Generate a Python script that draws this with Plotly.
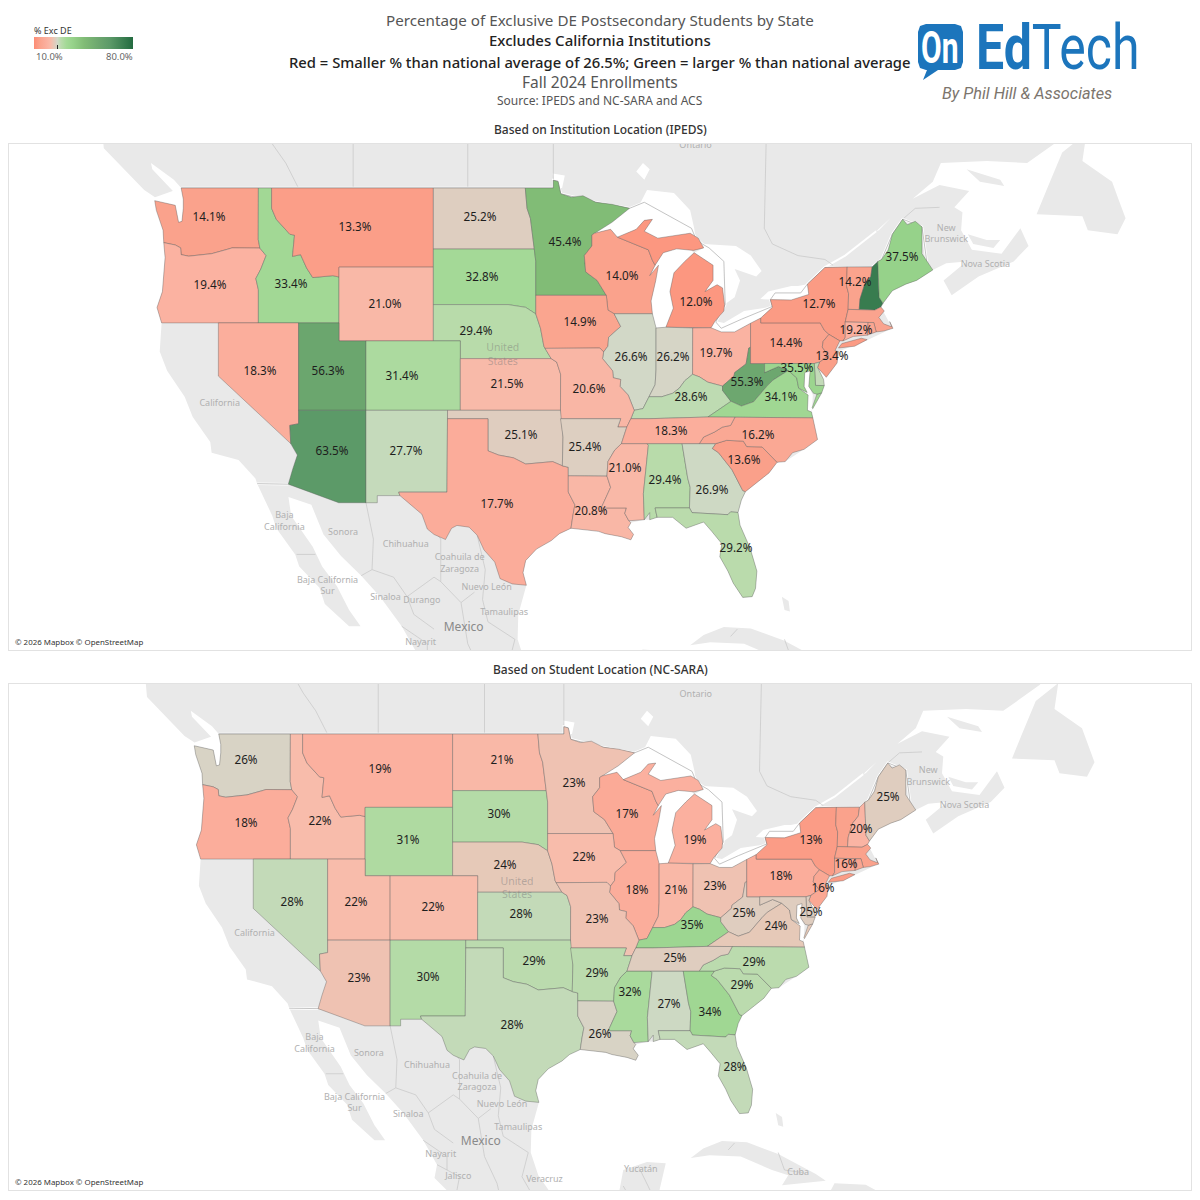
import numpy as np
import plotly.graph_objects as go
from plotly.colors import sample_colorscale

# values, % exclusive DE by state
states = ["WA","OR","ID","MT","WY","ND","SD","NE","MN","WI","MI","IA","IL","IN","OH","KY","WV","VA","PA","NY",
          "VT","NH","ME","MA","CT","RI","NJ","DE","MD","NV","UT","CO","KS","MO","AZ","NM","OK","TX","AR","LA",
          "MS","AL","GA","FL","SC","NC","TN"]
ipeds = [14.1,19.4,33.4,13.3,21.0,25.2,32.8,29.4,45.4,14.0,12.0,14.9,26.6,26.2,19.7,28.6,55.3,34.1,14.4,12.7,
         14.2,74.0,37.5,14.5,19.2,15.0,13.4,28.0,35.5,18.3,56.3,31.4,21.5,20.6,63.5,27.7,25.1,17.7,25.4,20.8,
         21.0,29.4,26.9,29.2,13.6,16.2,18.3]
nc_sara = [26,18,22,19,31,21,30,24,23,17,19,22,18,21,23,35,25,24,18,13,
           14,20,25,14,16,15,16,25,25,28,22,22,28,23,23,30,29,28,29,26,
           32,27,34,28,29,29,25]

scale_values = [10,14,19,22,24,25.5,26.5,27.7,29.4,33,37.5,45.4,56,63.5,80]
scale_colors = ["#fd8c74","#faa28c","#fbb09f","#f8bcab","#e6c9b8","#dccfc2","#d3d8c8","#c5dabb","#b8dbaa",
                "#a3d996","#96d28a","#81bc76","#6ca66e","#5c9a68","#236b40"]
colorscale = [[(v - 10) / 70, c] for v, c in zip(scale_values, scale_colors)]

# label anchors on the page
label_px_top = {"WA":(209,218),"OR":(210,286),"ID":(291,285),"MT":(355,228),"WY":(385,305),"ND":(480,218),
    "SD":(482,278),"NE":(476,332),"MN":(565,243),"WI":(622,277),"MI":(696,303),"IA":(580,323),"IL":(631,358),
    "IN":(673,358),"OH":(716,354),"KY":(691,398),"WV":(747,383),"VA":(781,398),"PA":(786,344),"NY":(819,305),
    "VT":(855,283),"ME":(902,258),"CT":(856,331),"NJ":(832,357),"MD":(797,369),"NV":(260,372),"UT":(328,372),
    "CO":(402,377),"KS":(507,385),"MO":(589,390),"AZ":(332,452),"NM":(406,452),"OK":(521,436),"TX":(497,505),
    "AR":(585,448),"LA":(591,512),"MS":(625,469),"AL":(665,481),"GA":(712,491),"FL":(736,549),"SC":(744,461),
    "NC":(758,436),"TN":(671,432)}
label_px_bottom = {"WA":(246,761),"OR":(246,824),"ID":(320,822),"MT":(380,770),"WY":(408,841),"ND":(502,761),
    "SD":(499,815),"NE":(505,866),"MN":(574,784),"WI":(627,815),"MI":(695,841),"IA":(584,858),"IL":(637,891),
    "IN":(676,891),"OH":(715,887),"KY":(692,926),"WV":(744,914),"VA":(776,927),"PA":(781,877),"NY":(811,841),
    "NH":(861,830),"ME":(888,798),"CT":(846,865),"NJ":(823,889),"DE":(811,913),"NV":(292,903),"UT":(356,903),
    "CO":(433,908),"KS":(521,915),"MO":(597,920),"AZ":(359,979),"NM":(428,978),"OK":(534,962),"TX":(512,1026),
    "AR":(597,974),"LA":(600,1035),"MS":(630,993),"AL":(669,1005),"GA":(710,1013),"FL":(735,1068),"SC":(742,986),
    "NC":(754,963),"TN":(675,959)}

# rough state outlines, lon/lat, typed by hand since the topojson needs the network
shapes = {
"WA":[[(-124.72,48.38),(-123.2,48.15),(-122.95,47.3),(-122.7,47.35),(-122.6,48.0),(-122.6,48.45),(-122.76,49.0),(-117.03,49.0),(-117.04,46.43),(-116.92,45.99),(-118.98,46.0),(-119.3,45.93),(-120.5,45.7),(-121.2,45.65),(-122.2,45.57),(-122.76,45.65),(-122.8,46.0),(-123.2,46.15),(-124.05,46.27),(-124.1,46.9),(-124.6,47.9)]],
"OR":[[(-124.05,46.27),(-123.2,46.15),(-122.8,46.0),(-122.76,45.65),(-122.2,45.57),(-121.2,45.65),(-120.5,45.7),(-119.3,45.93),(-118.98,46.0),(-116.92,45.99),(-116.46,45.6),(-116.85,44.9),(-117.22,44.4),(-117.03,43.8),(-117.03,42.0),(-124.21,42.0),(-124.55,42.84),(-124.15,43.7),(-124.05,44.7),(-123.95,45.5)]],
"ID":[[(-117.03,49),(-116.05,49),(-116.05,48.0),(-115.7,47.45),(-114.7,46.7),(-114.35,46.65),(-114.5,45.56),(-113.9,45.65),(-113.45,44.95),(-113.0,44.45),(-111.5,44.55),(-111.05,44.48),(-111.05,42.0),(-117.03,42.0),(-117.03,43.8),(-117.22,44.4),(-116.85,44.9),(-116.46,45.6),(-116.92,45.99),(-117.04,46.43)]],
"MT":[[(-116.05,49),(-104.05,49),(-104.05,45),(-111.05,45),(-111.05,44.48),(-111.5,44.55),(-113.0,44.45),(-113.45,44.95),(-113.9,45.65),(-114.5,45.56),(-114.35,46.65),(-114.7,46.7),(-115.7,47.45),(-116.05,48.0)]],
"WY":[[(-111.05,45),(-104.05,45),(-104.05,41),(-111.05,41)]],
"ND":[[(-104.05,49),(-97.23,49),(-97.1,48.0),(-96.85,47.5),(-96.56,45.94),(-104.05,45.94)]],
"SD":[[(-104.05,45.94),(-96.56,45.94),(-96.45,45.3),(-96.45,43.5),(-96.45,42.49),(-97.2,42.85),(-98.5,43.0),(-104.05,43)]],
"NE":[[(-104.05,43),(-98.5,43),(-97.2,42.85),(-96.45,42.49),(-96.1,41.7),(-95.85,40.7),(-95.31,40.0),(-102.05,40),(-102.05,41),(-104.05,41)]],
"CO":[[(-109.05,41),(-102.05,41),(-102.05,37),(-109.05,37)]],
"UT":[[(-111.05,42),(-111.05,41),(-109.05,41),(-109.05,37),(-114.05,37),(-114.05,42)]],
"NV":[[(-120,42),(-114.05,42),(-114.05,36.2),(-114.7,36.1),(-114.63,35.0),(-120,39)]],
"AZ":[[(-114.05,37),(-109.05,37),(-109.05,31.33),(-111.07,31.33),(-114.81,32.5),(-114.72,32.72),(-114.5,33.4),(-114.14,34.3),(-114.63,35.0),(-114.7,36.1),(-114.05,36.2)]],
"NM":[[(-109.05,37),(-103,37),(-103.04,32),(-106.62,32),(-106.53,31.78),(-108.21,31.78),(-108.21,31.33),(-109.05,31.33)]],
"KS":[[(-102.05,40),(-95.31,40),(-94.9,39.8),(-94.61,39.11),(-94.62,37),(-102.05,37)]],
"OK":[[(-103,37),(-94.62,37),(-94.43,35.4),(-94.48,33.64),(-95.2,33.9),(-96.5,33.8),(-97.2,33.75),(-98.1,34.13),(-99.2,34.3),(-100,34.56),(-100,36.5),(-103,36.5)]],
"TX":[[(-106.62,32),(-103.04,32),(-103,36.5),(-100,36.5),(-100,34.56),(-99.2,34.3),(-98.1,34.13),(-97.2,33.75),(-96.5,33.8),(-95.2,33.9),(-94.48,33.64),(-94.04,33.55),(-94.04,32),(-93.55,31.2),(-93.7,30.5),(-93.84,29.7),(-94.7,29.35),(-95.3,28.9),(-96.4,28.35),(-97.2,27.6),(-97.4,26.8),(-97.15,25.96),(-98.2,26.05),(-99.1,26.4),(-99.5,27.5),(-100.3,28.3),(-100.8,29.25),(-101.4,29.77),(-102.3,29.88),(-102.7,29.7),(-103.15,28.97),(-104.0,29.3),(-104.5,29.65),(-104.9,30.6),(-106.0,31.4),(-106.53,31.78)]],
"MN":[[(-97.23,49),(-95.15,49),(-95.15,49.38),(-94.8,49.32),(-94.6,48.72),(-93.8,48.55),(-92.95,48.62),(-92.0,48.3),(-90.8,48.2),(-89.5,48.0),(-90.8,47.3),(-92.1,46.75),(-92.29,46.66),(-92.29,46.1),(-92.85,45.6),(-92.75,44.75),(-91.9,44.3),(-91.22,43.5),(-96.45,43.5),(-96.45,45.3),(-96.56,45.94),(-96.85,47.5),(-97.1,48.0)]],
"IA":[[(-96.45,43.5),(-91.22,43.5),(-91.1,42.7),(-90.64,42.5),(-90.15,41.8),(-91.05,41.2),(-91.1,40.7),(-91.42,40.38),(-91.7,40.6),(-95.77,40.58),(-95.85,40.7),(-96.1,41.7),(-96.45,42.49)]],
"MO":[[(-95.77,40.58),(-91.7,40.6),(-91.42,40.38),(-91.5,40.0),(-90.75,39.3),(-90.7,38.9),(-90.15,38.8),(-90.2,38.4),(-89.6,37.9),(-89.15,37.0),(-89.4,36.5),(-89.7,36.0),(-90.37,36.0),(-90.15,36.5),(-94.62,36.5),(-94.62,37),(-94.61,39.11),(-94.9,39.8),(-95.31,40.0)]],
"AR":[[(-94.62,36.5),(-90.15,36.5),(-90.37,36.0),(-89.7,36.0),(-90.1,35.0),(-90.6,34.6),(-91.1,33.9),(-91.17,33.0),(-94.04,33.02),(-94.04,33.55),(-94.48,33.64),(-94.43,35.4)]],
"LA":[[(-94.04,33.02),(-91.17,33.0),(-90.9,32.3),(-91.6,31.0),(-89.73,31.0),(-89.85,30.65),(-89.55,30.18),(-89.4,30.05),(-89.6,29.75),(-89.2,29.3),(-89.4,28.95),(-90.1,29.15),(-91.3,29.35),(-91.8,29.5),(-92.6,29.58),(-93.84,29.7),(-93.7,30.5),(-93.55,31.2),(-94.04,32)]],
"MS":[[(-91.17,33.0),(-91.1,33.9),(-90.6,34.6),(-90.1,35.0),(-88.2,35.0),(-88.1,34.9),(-88.47,31.9),(-88.4,30.25),(-89.55,30.18),(-89.85,30.65),(-89.73,31.0),(-91.6,31.0),(-90.9,32.3)]],
"AL":[[(-88.2,35),(-85.6,35),(-85.18,32.87),(-85.0,32.3),(-85.05,31.0),(-87.6,31.0),(-87.45,30.4),(-88.0,30.25),(-88.0,30.7),(-88.4,30.25),(-88.47,31.9),(-88.1,34.9)]],
"GA":[[(-85.6,35),(-83.1,35),(-83.35,34.7),(-82.9,34.45),(-81.9,33.4),(-81.4,32.6),(-81.1,32.1),(-80.9,32.03),(-81.2,31.5),(-81.45,30.71),(-82.0,30.75),(-82.2,30.57),(-84.86,30.7),(-85.05,31.0),(-85.0,32.3),(-85.18,32.87)]],
"FL":[[(-87.6,31.0),(-85.05,31.0),(-84.86,30.7),(-82.2,30.57),(-82.0,30.75),(-81.45,30.71),(-81.3,29.9),(-80.55,28.4),(-80.05,26.9),(-80.15,25.75),(-80.4,25.2),(-81.1,25.15),(-81.8,26.1),(-82.2,26.9),(-82.8,27.85),(-82.65,28.7),(-83.4,29.5),(-84.0,30.1),(-85.3,29.7),(-86.3,30.4),(-87.45,30.4)]],
"SC":[[(-83.35,34.7),(-83.1,35),(-82.3,35.2),(-81.05,35.15),(-80.8,34.82),(-79.67,34.8),(-78.55,33.86),(-79.15,33.2),(-79.9,32.7),(-80.9,32.03),(-81.1,32.1),(-81.4,32.6),(-81.9,33.4),(-82.9,34.45)]],
"NC":[[(-84.32,35),(-83.1,35),(-82.3,35.2),(-81.05,35.15),(-80.8,34.82),(-79.67,34.8),(-78.55,33.86),(-77.95,33.9),(-77.4,34.45),(-76.55,34.65),(-75.55,35.25),(-75.9,36.55),(-81.68,36.59),(-82.0,36.1),(-82.6,36.0),(-83.2,35.7),(-84.0,35.4)]],
"TN":[[(-90.1,35.0),(-88.2,35),(-85.6,35),(-84.32,35),(-84.0,35.4),(-83.2,35.7),(-82.6,36.0),(-82.0,36.1),(-81.68,36.59),(-83.68,36.6),(-88.07,36.5),(-89.4,36.5),(-89.7,36.0)]],
"KY":[[(-89.4,36.5),(-88.07,36.5),(-83.68,36.6),(-81.97,37.53),(-82.0,37.55),(-82.6,38.17),(-82.6,38.42),(-83.7,38.65),(-84.3,38.95),(-84.82,39.1),(-85.4,38.73),(-85.8,38.3),(-86.3,38.0),(-87.1,37.8),(-88.05,37.8),(-88.5,37.1),(-89.15,37.0)]],
"VA":[[(-83.68,36.6),(-81.68,36.59),(-75.9,36.55),(-76.0,36.9),(-76.3,37.0),(-76.25,37.9),(-76.95,38.3),(-77.05,38.7),(-77.1,38.9),(-77.72,39.32),(-78.87,38.76),(-79.3,38.42),(-80.3,37.5),(-81.2,37.25),(-81.97,37.53)],[(-75.95,37.15),(-75.6,37.95),(-75.24,38.03),(-75.9,37.1)]],
"WV":[[(-81.97,37.53),(-82.0,37.55),(-82.6,38.17),(-82.6,38.42),(-81.75,39.0),(-81.7,39.2),(-80.85,39.7),(-80.65,40.6),(-80.52,40.64),(-80.52,39.72),(-79.48,39.72),(-79.48,39.2),(-78.45,39.55),(-77.72,39.32),(-78.87,38.76),(-79.3,38.42),(-80.3,37.5),(-81.2,37.25)]],
"OH":[[(-84.81,41.72),(-83.45,41.73),(-82.7,41.5),(-81.7,41.5),(-80.52,41.98),(-80.52,40.64),(-80.65,40.6),(-80.85,39.7),(-81.7,39.2),(-81.75,39.0),(-82.6,38.42),(-83.7,38.65),(-84.3,38.95),(-84.82,39.1)]],
"IN":[[(-87.53,41.72),(-86.8,41.76),(-84.81,41.72),(-84.82,39.1),(-85.4,38.73),(-85.8,38.3),(-86.3,38.0),(-87.1,37.8),(-88.05,37.8),(-87.6,38.5),(-87.53,39.35)]],
"IL":[[(-90.64,42.5),(-87.8,42.5),(-87.53,41.72),(-87.53,39.35),(-87.6,38.5),(-88.05,37.8),(-88.5,37.1),(-89.15,37.0),(-89.6,37.9),(-90.2,38.4),(-90.15,38.8),(-90.7,38.9),(-90.75,39.3),(-91.5,40.0),(-91.42,40.38),(-91.1,40.7),(-91.05,41.2),(-90.15,41.8)]],
"WI":[[(-92.29,46.66),(-92.1,46.75),(-90.9,46.95),(-90.4,46.55),(-88.1,45.9),(-87.8,45.35),(-87.6,45.1),(-88.0,44.55),(-87.35,45.1),(-87.55,44.3),(-87.9,43.2),(-87.8,42.5),(-90.64,42.5),(-91.1,42.7),(-91.22,43.5),(-91.9,44.3),(-92.75,44.75),(-92.85,45.6),(-92.29,46.1)]],
"MI":[[(-86.8,41.76),(-84.81,41.72),(-83.45,41.73),(-83.15,42.1),(-82.5,42.65),(-82.45,43.0),(-82.6,43.9),(-83.0,44.07),(-83.9,43.7),(-83.3,44.3),(-83.3,45.1),(-84.7,45.75),(-85.4,45.3),(-86.2,44.7),(-86.5,43.7),(-86.25,42.8)],[(-90.4,46.55),(-89.0,46.95),(-88.4,47.4),(-87.8,47.45),(-88.4,46.85),(-87.4,46.5),(-85.0,46.75),(-84.4,46.5),(-84.0,46.0),(-84.75,45.87),(-86.0,45.95),(-87.0,45.75),(-87.6,45.1),(-87.8,45.35),(-88.1,45.9)]],
"PA":[[(-80.52,41.98),(-79.76,42.27),(-79.76,42.0),(-75.35,42.0),(-75.05,41.6),(-74.7,41.36),(-75.13,40.98),(-75.2,40.65),(-74.73,40.15),(-75.4,39.8),(-75.79,39.72),(-80.52,39.72)]],
"NY":[[(-79.76,42.27),(-78.9,42.85),(-79.05,43.27),(-77.5,43.25),(-76.2,43.55),(-76.3,44.1),(-75.0,44.98),(-73.35,45.01),(-73.4,44.0),(-73.25,43.6),(-73.28,42.74),(-73.5,42.05),(-73.49,41.2),(-73.66,41.0),(-73.9,41.0),(-74.7,41.36),(-75.05,41.6),(-75.35,42.0),(-79.76,42.0)],[(-74.0,40.6),(-73.75,40.85),(-72.3,41.15),(-71.87,41.07),(-72.8,40.7)]],
"NJ":[[(-74.7,41.36),(-73.9,41.0),(-74.25,40.45),(-74.0,40.4),(-74.1,39.75),(-74.9,38.93),(-75.55,39.5),(-75.4,39.8),(-74.73,40.15),(-75.2,40.65),(-75.13,40.98)]],
"DE":[[(-75.79,39.72),(-75.4,39.8),(-75.55,39.5),(-75.1,38.8),(-75.05,38.45),(-75.7,38.46)]],
"MD":[[(-79.48,39.72),(-75.79,39.72),(-75.7,38.46),(-75.05,38.45),(-75.24,38.03),(-75.6,37.95),(-75.85,38.0),(-76.2,38.4),(-76.1,39.3),(-76.5,39.2),(-76.55,38.4),(-76.32,38.05),(-76.95,38.3),(-77.05,38.7),(-77.1,38.9),(-77.72,39.32),(-78.45,39.55),(-79.48,39.2)]],
"CT":[[(-73.5,42.05),(-71.8,42.02),(-71.85,41.32),(-72.9,41.25),(-73.66,41.0),(-73.49,41.2)]],
"RI":[[(-71.8,42.02),(-71.38,42.02),(-71.2,41.5),(-71.85,41.32)]],
"MA":[[(-73.28,42.74),(-71.3,42.7),(-70.85,42.87),(-70.6,42.65),(-71.0,42.3),(-70.65,41.95),(-70.05,41.78),(-70.2,42.07),(-69.95,41.7),(-70.65,41.55),(-71.2,41.5),(-71.38,42.02),(-71.8,42.02),(-73.5,42.05)]],
"VT":[[(-73.35,45.01),(-71.5,45.01),(-71.6,44.5),(-72.05,44.1),(-72.4,43.3),(-72.46,42.73),(-73.28,42.74),(-73.25,43.6),(-73.4,44.0)]],
"NH":[[(-71.5,45.01),(-71.08,45.3),(-70.98,43.4),(-70.7,43.07),(-70.85,42.87),(-71.3,42.7),(-72.46,42.73),(-72.4,43.3),(-72.05,44.1),(-71.6,44.5)]],
"ME":[[(-71.08,45.3),(-70.8,45.4),(-70.3,45.9),(-70.0,46.7),(-69.23,47.46),(-68.9,47.18),(-68.3,47.35),(-67.8,47.07),(-67.8,45.7),(-67.45,45.3),(-67.0,44.85),(-68.2,44.3),(-69.0,44.1),(-70.0,43.75),(-70.7,43.07),(-70.98,43.4)]],
}

land = [
 [(-128.8,53),(-128.5,50.9),(-125.5,48.9),(-124.7,48.55),(-122.76,49),(-122.6,48.45),(-122.6,48),(-122.7,47.35),(-122.95,47.3),(-123.2,48.15),(-124.72,48.38),(-124.1,46.9),(-124.05,46.27),(-123.95,45.5),(-124.05,44.7),(-124.15,43.7),(-124.55,42.84),(-124.21,42),(-124.35,40.4),(-123.8,39.3),(-122.5,37.8),(-121.9,36.6),(-120.6,35.1),(-120.5,34.45),(-118.5,34),(-117.25,32.85),(-117.12,32.53),(-116,30.5),(-115.7,29.7),(-114.3,28),(-114,27.2),(-112.5,25.8),(-112.1,24.7),(-110.3,23.2),(-109.45,23.2),(-110.3,24.3),(-111.2,25.9),(-112.3,27.2),(-113,28.5),(-114.6,30.5),(-114.8,31.7),(-113.1,31.2),(-112.2,29.3),(-110.9,27.9),(-109.4,26.6),(-108,25.2),(-106.4,23.2),(-105.3,21.4),(-105.5,20.4),(-104,19),(-101.8,17.8),(-100,16.9),(-98,16.2),(-95,16),(-94,16.2),(-92.2,14.5),(-85,13),(-83,15),(-88,15.8),(-88.2,17.5),(-87.5,19.5),(-87,21.5),(-88.5,21.6),(-90.4,21),(-90.7,19.5),(-92,18.6),(-94.5,18.2),(-96,19),(-97.2,20.6),(-97.8,22.3),(-97.75,24),(-97.15,25.96),(-97.4,26.8),(-97.2,27.6),(-96.4,28.35),(-95.3,28.9),(-94.7,29.35),(-93.84,29.7),(-92.6,29.58),(-91.8,29.5),(-91.3,29.35),(-90.1,29.15),(-89.4,28.95),(-89.2,29.3),(-89.6,29.75),(-89.4,30.05),(-88.4,30.25),(-88,30.25),(-87.45,30.4),(-86.3,30.4),(-85.3,29.7),(-84,30.1),(-83.4,29.5),(-82.65,28.7),(-82.8,27.85),(-82.2,26.9),(-81.8,26.1),(-81.1,25.15),(-80.4,25.2),(-80.15,25.75),(-80.05,26.9),(-80.55,28.4),(-81.3,29.9),(-81.45,30.71),(-81.2,31.5),(-80.9,32.03),(-79.9,32.7),(-79.15,33.2),(-78.55,33.86),(-77.95,33.9),(-76.55,34.65),(-75.55,35.25),(-75.9,36.55),(-76,36.9),(-75.9,37.1),(-75.24,38.03),(-75.05,38.45),(-75.1,38.8),(-74.9,38.93),(-74.1,39.75),(-74,40.4),(-72,41),(-70,41.7),(-70.85,42.87),(-70,43.75),(-69,44.1),(-68.2,44.3),(-67,44.85),(-66,45.2),(-64.5,45.3),(-66.2,44.3),(-65.6,43.5),(-63.6,44.5),(-61,45.3),(-59.9,46.1),(-60.5,47),(-61.9,45.7),(-64.1,45.9),(-64.9,46.9),(-64.8,47.8),(-65.4,48.05),(-64.3,48.85),(-66.5,49.15),(-69,48.3),(-71,46.9),(-71.2,46.85),(-69.5,47.9),(-67,49.3),(-66.4,50.2),(-63,50.3),(-60,50.2),(-57.1,51.5),(-55.7,52.5),(-56,54),(-60,56),(-62,58),(-128,58)],
 [(-59.3,47.7),(-58.5,49),(-57.4,50.7),(-55.6,51.6),(-55.9,50.3),(-53.7,49.3),(-53.2,48.4),(-52.7,47.5),(-53.3,46.7),(-55.5,46.9),(-55.9,47.6)],
 [(-64.5,49.9),(-62,49.4),(-61.7,49.1),(-63.5,49.3)],
 [(-64.4,46.7),(-63,46.4),(-62,46.4),(-62.5,46),(-64,46.2)],
 [(-85,21.9),(-84,22.6),(-82.5,23.15),(-80.5,23.05),(-78,22.2),(-75,20.7),(-74.2,20.2),(-77.7,19.85),(-77.2,20.6),(-78.5,21),(-81,22),(-83.5,22.1)],
 [(-78.2,25.2),(-77.7,24.9),(-77.6,24.2),(-78,24.3)],
 [(-73.5,20),(-71,19.9),(-68.5,18.6),(-72,18),(-74.4,18.4)],
]
water = [
 [(-125,50.2),(-123.3,49.4),(-122.76,49),(-122.6,48.4),(-124.7,48.45),(-123.4,48.35),(-123.3,48.8),(-124.9,49.9)],
 [(-92.1,46.75),(-90.9,46.95),(-90.4,46.55),(-89,46.95),(-88.4,47.4),(-87.8,47.45),(-88.4,46.85),(-87.4,46.5),(-85,46.75),(-84.6,46.5),(-84.7,47),(-85,47.9),(-86.2,48.75),(-88.2,48.9),(-88.7,48.25),(-89.5,48),(-90.8,47.3)],
 [(-87.8,42.5),(-87.53,41.72),(-86.8,41.76),(-86.25,42.8),(-86.5,43.7),(-86.2,44.7),(-85.4,45.3),(-84.75,45.75),(-85,45.95),(-86,45.95),(-87,45.75),(-87.6,45.1),(-88,44.55),(-87.55,44.3),(-87.9,43.2)],
 [(-84.7,45.75),(-83.3,45.1),(-83.3,44.3),(-83.9,43.7),(-83,44.07),(-82.6,43.9),(-82.45,43),(-81.7,43.4),(-81.3,44.3),(-81.7,44.9),(-80.1,44.5),(-79.7,44.8),(-80.5,45.6),(-81.6,46.1),(-84,46.2),(-84,46)],
 [(-83.45,41.73),(-83.15,42.1),(-82.5,42),(-81,42.65),(-79.2,42.85),(-78.9,42.85),(-79.76,42.27),(-80.52,41.98),(-81.7,41.5),(-82.7,41.5)],
 [(-79.8,43.3),(-79.05,43.27),(-77.5,43.25),(-76.2,43.55),(-76.3,44.1),(-77,44),(-77.5,44),(-79.2,43.7)],
 [(-76.1,39.4),(-76.5,39.2),(-76.5,38.4),(-76.3,38),(-76.95,38.3),(-76.25,37.9),(-76.3,37),(-76,36.95),(-75.95,37.15),(-75.9,37.9),(-76.2,38.4)],
 [(-75.5,39.5),(-75.1,38.8),(-74.9,38.93)],
 [(-88.5,50.2),(-88,49.9),(-88.4,49.4),(-89,49.8)],
 [(-95.2,49.7),(-94.3,49.6),(-94.5,49),(-95,49)],
]
borders = [
 [(-122.76,49),(-95.15,49),(-95.15,49.38),(-94.8,49.32),(-94.6,48.72),(-92,48.3),(-89.5,48),(-88.4,48.3),(-84.9,47),(-84.6,46.5),(-84.1,46.2),(-83.6,46),(-82.5,45.3),(-82.4,43),(-83.1,42.05),(-82.7,41.7),(-81.2,42.2),(-78.9,42.9),(-79.05,43.27),(-78.7,43.63),(-76.8,43.63),(-76.3,44.1),(-75,44.98),(-71.5,45.01),(-70.8,45.4),(-70,46.7),(-69.23,47.46),(-67.8,47.07),(-67.45,45.3)],
 [(-117.12,32.53),(-114.81,32.5)],
]
province_lines = [
 [(-114.06,49),(-115,50.2),(-116,51.1),(-117,52.2)],[(-110,49),(-110,53)],[(-101.5,49),(-101.5,53)],[(-95.15,49.38),(-95.15,53)],
 [(-79.3,53),(-79.5,47),(-78.9,46.2),(-77,45.6),(-75,45.4),(-74.4,45.1)],[(-69.23,47.46),(-68.3,48),(-66.5,48.05)],
 [(-114.2,28),(-112.8,28)],[(-109.05,31.33),(-108.5,29),(-108.6,27),(-107,26.5),(-106,25.2),(-105.5,24),(-104,23)],
 [(-109.4,26.6),(-108.6,27)],[(-104.9,30.6),(-103.5,29),(-103.5,26.2),(-102,24.8),(-101,25.5)],[(-106,25.2),(-104,26.5),(-103.5,26.2)],
 [(-100.8,29.25),(-100.2,27),(-100.4,25),(-100,23.5),(-98,22.3)],[(-106.4,23.2),(-104.5,22),(-104.5,21)],[(-105.3,21.4),(-103.5,20.5),(-103.8,19)],
 [(-102,24.8),(-101.5,22),(-100.5,20),(-100,18)],[(-98,22.3),(-98.5,20.5),(-97,18),(-95,16.5)],[(-90.4,19.8),(-89.2,17.8)],[(-89.2,21.3),(-88.5,20),(-88,19)],
 [(-82,22.5),(-81.5,23)],[(-78,22.3),(-77.5,21),(-76,20.8)],
]
place_names = ["California","Ontario","New<br>Brunswick","Nova Scotia","Baja<br>California","Sonora","Chihuahua",
               "Coahuila de<br>Zaragoza","Baja California<br>Sur","Nuevo León","Sinaloa","Durango","Tamaulipas","Nayarit","Jalisco","Veracruz","Yucatán","Cuba"]
place_lon = [-119.9,-84.6,-66,-63.1,-115.1,-110.75,-106.1,-102.1,-111.9,-100.1,-107.6,-104.9,-98.8,-105,-103.6,-96.7,-89,-76.4]
place_lat = [37.4,51,46.7,45.1,30.1,29.4,28.6,27.4,25.9,25.8,25.1,24.9,24.1,22.1,20.5,20.27,21.05,20.8]

TEXT_FONT = "Noto Sans"


def merc(lat):
    lat = np.asarray(lat, dtype=float)
    return np.degrees(np.log(np.tan(np.pi / 4 + np.radians(lat) / 2)))


def rings_xy(rings):
    xs, ys = [], []
    for ring in rings:
        lon = [p[0] for p in ring]
        lat = [p[1] for p in ring]
        xs += lon + [lon[0], None]
        ys += list(merc(lat)) + [float(merc(lat[0])), None]
    return xs, ys


def lines_xy(lines):
    xs, ys = [], []
    for line in lines:
        xs += [p[0] for p in line] + [None]
        ys += [float(v) for v in merc([p[1] for p in line])] + [None]
    return xs, ys


fig = go.Figure()


def add_map(num, box, deg_px, lon_ref, y_ref, values, labels, decimals):
    """one panel: box is left, top, right, bottom on the page, lon_ref = (lon, page x), y_ref = page y of 49N"""
    left, top, right, bottom = box
    m49 = float(merc(49))
    to_lon = lambda px: lon_ref[0] + (px - lon_ref[1]) / deg_px
    to_m = lambda py: m49 - (py - y_ref) / deg_px
    xname, yname = ("x", "y") if num == 1 else (f"x{num}", f"y{num}")
    axis_x = dict(domain=[left / 1200, right / 1200], range=[to_lon(left), to_lon(right)], showgrid=False,
                  zeroline=False, showticklabels=False, ticks="", showline=True, linecolor="#e2e2e2", linewidth=1, mirror=True,
                  fixedrange=True, anchor=yname)
    axis_y = dict(domain=[1 - bottom / 1200, 1 - top / 1200], range=[to_m(bottom), to_m(top)], showgrid=False,
                  zeroline=False, showticklabels=False, ticks="", showline=True, linecolor="#e2e2e2", linewidth=1, mirror=True,
                  fixedrange=True, anchor=xname)
    suffix = "" if num == 1 else str(num)
    fig.update_layout({"xaxis" + suffix: axis_x, "yaxis" + suffix: axis_y})
    common = dict(xaxis=xname, yaxis=yname, showlegend=False)

    x, y = rings_xy(land)
    fig.add_trace(go.Scatter(x=x, y=y, fill="toself", fillcolor="#e9e9e9", mode="none", hoverinfo="skip", **common))
    x, y = rings_xy(water)
    fig.add_trace(go.Scatter(x=x, y=y, fill="toself", fillcolor="#ffffff", mode="none", hoverinfo="skip", **common))
    x, y = lines_xy([[(-76.3,44.1),(-75,45),(-73.5,45.6),(-71.2,46.85)]])
    fig.add_trace(go.Scatter(x=x, y=y, mode="lines", line=dict(color="#ffffff", width=2), hoverinfo="skip", **common))
    x, y = lines_xy(province_lines)
    fig.add_trace(go.Scatter(x=x, y=y, mode="lines", line=dict(color="#c6c6c6", width=0.7), hoverinfo="skip", **common))
    x, y = lines_xy(borders)
    fig.add_trace(go.Scatter(x=x, y=y, mode="lines", line=dict(color="#ffffff", width=2.5), hoverinfo="skip", **common))
    fig.add_trace(go.Scatter(x=x, y=y, mode="lines", line=dict(color="#b5b5b5", width=0.8), hoverinfo="skip", **common))

    colors = sample_colorscale(colorscale, [(v - 10) / 70 for v in values])
    for code, value, color in zip(states, values, colors):
        x, y = rings_xy(shapes[code])
        fig.add_trace(go.Scatter(x=x, y=y, fill="toself", fillcolor=color, mode="lines",
                                 line=dict(color="rgba(90,90,90,0.55)", width=0.7),
                                 text=f"{code}: {value:.{decimals}f}%", hoverinfo="text", hoveron="fills", **common))

    # only the place names that fall inside this panel, the lower map drops Durango
    keep = [i for i in range(len(place_names))
            if to_lon(left) < place_lon[i] < to_lon(right) and to_m(bottom) < merc(place_lat[i]) < to_m(top)
            and not (num == 2 and place_names[i] == "Durango")]
    fig.add_trace(go.Scatter(x=[place_lon[i] for i in keep], y=merc([place_lat[i] for i in keep]), mode="text",
                             text=[place_names[i] for i in keep], hoverinfo="skip",
                             textfont=dict(family=TEXT_FONT, size=9, color="#b0b0b0"), **common))
    fig.add_trace(go.Scatter(x=[-101.8], y=merc([23.06]), mode="text", text=["Mexico"], hoverinfo="skip",
                             textfont=dict(family=TEXT_FONT, size=12, color="#8a8a8a"), **common))
    fig.add_trace(go.Scatter(x=[-98.9], y=merc([40.2]), mode="text", text=["United<br>States"], hoverinfo="skip",
                             textfont=dict(family=TEXT_FONT, size=10.5, color="rgba(120,120,120,0.45)"), **common))

    codes = [c for c in states if c in labels]
    text = [f"{values[states.index(c)]:.{decimals}f}%" for c in codes]
    fig.add_trace(go.Scatter(x=[to_lon(labels[c][0]) for c in codes], y=[to_m(labels[c][1]) for c in codes],
                             mode="text", text=text, hoverinfo="skip",
                             textfont=dict(family=TEXT_FONT, size=11.7, color="#1e1e1e"), **common))


add_map(1, (9, 144, 1191, 650), 13.48, (-124.7, 155), 188, ipeds, label_px_top, 1)
add_map(2, (9, 684, 1191, 1190), 12.5, (-124.5, 197), 734, nc_sara, label_px_bottom, 0)

# trace that only carries the colour legend
fig.add_trace(go.Scatter(x=[None, None], y=[None, None], mode="markers", showlegend=False, hoverinfo="skip",
                         marker=dict(color=[10, 80], coloraxis="coloraxis")))


def note(text, px, py, size, color="#555555", anchor="center", family=TEXT_FONT, weight=None):
    fig.add_annotation(text=text, x=px / 1200, y=1 - py / 1200, xref="paper", yref="paper", showarrow=False,
                       xanchor=anchor, yanchor="middle", font=dict(family=family, size=size, color=color, weight=weight))


note("Percentage of Exclusive DE Postsecondary Students by State", 600, 20, 15.2)
note("Excludes California Institutions", 600, 40, 15, "#222222", weight=500)
note("Red = Smaller % than national average of 26.5%; Green = larger % than national average", 600, 62, 14.8, "#222222", weight=500)
note("Fall 2024 Enrollments", 600, 82, 15.5)
note("Source: IPEDS and NC-SARA and ACS", 600, 100, 12)
note("Based on Institution Location (IPEDS)", 600, 129, 12, "#333333", weight=500)
note("Based on Student Location (NC-SARA)", 600, 669, 12, "#333333", weight=500)
note("© 2026 Mapbox © OpenStreetMap", 13, 642, 7.9, "#333333", "left")
note("© 2026 Mapbox © OpenStreetMap", 13, 1182, 7.9, "#333333", "left")
note("% Exc DE", 32, 30, 9, "#333333", "left")
note("10.0%", 34, 57, 9.5, "#666666", "left")
note("80.0%", 135, 57, 9.5, "#666666", "right")

# logo
fig.add_shape(type="path", xref="paper", yref="paper", line_width=0, fillcolor="#1c75bc",
              path=" ".join(f"{c}{x / 1200:.5f},{1 - y / 1200:.5f}" for c, x, y in
                            [("M", 926, 24), ("L", 955, 24), ("L", 961, 26), ("L", 963, 32), ("L", 963, 62), ("L", 961, 68),
                             ("L", 955, 70), ("L", 938, 70), ("L", 923, 80), ("L", 927, 70), ("L", 926, 70), ("L", 920, 68),
                             ("L", 918, 62), ("L", 918, 32), ("L", 920, 26)]) + " Z")
note("<b>On</b>", 940.5, 47, 30, "#ffffff", family="Roboto")
note("<b>Ed</b>Tech", 974, 47, 50, "#1c75bc", "left", family="Roboto")
note("<i>By Phil Hill & Associates</i>", 1027, 93, 16.3, "#7c756d", family="Roboto")

fig.update_layout(
    width=1200, height=1200, margin=dict(l=0, r=0, t=0, b=0), paper_bgcolor="white", plot_bgcolor="white",
    font=dict(family=TEXT_FONT),
    coloraxis=dict(cmin=10, cmax=80, colorscale=colorscale,
                   colorbar=dict(orientation="h", x=34 / 1200, xanchor="left", y=1 - 37 / 1200, yanchor="top",
                                 len=99, lenmode="pixels", thickness=12, thicknessmode="pixels", outlinewidth=0,
                                 tickvals=[26.5], ticktext=[""], ticks="inside", ticklen=4, tickcolor="#222222", xpad=0, ypad=0)),
)

# the logo lettering is tall and narrow, stretch it
stretch = """
document.body.style.margin = '0';
document.querySelectorAll('.annotation-text').forEach(function (t) {
  if (t.textContent === 'EdTech' || t.textContent === 'On') {
    t.style.transformBox = 'fill-box';
    t.style.transformOrigin = 'center';
    t.style.transform = t.textContent === 'On' ? 'scaleY(1.45)' : 'scaleY(1.27)';
  }
});
"""
fig.write_html("out.html", post_script=stretch, config={"displayModeBar": False})
